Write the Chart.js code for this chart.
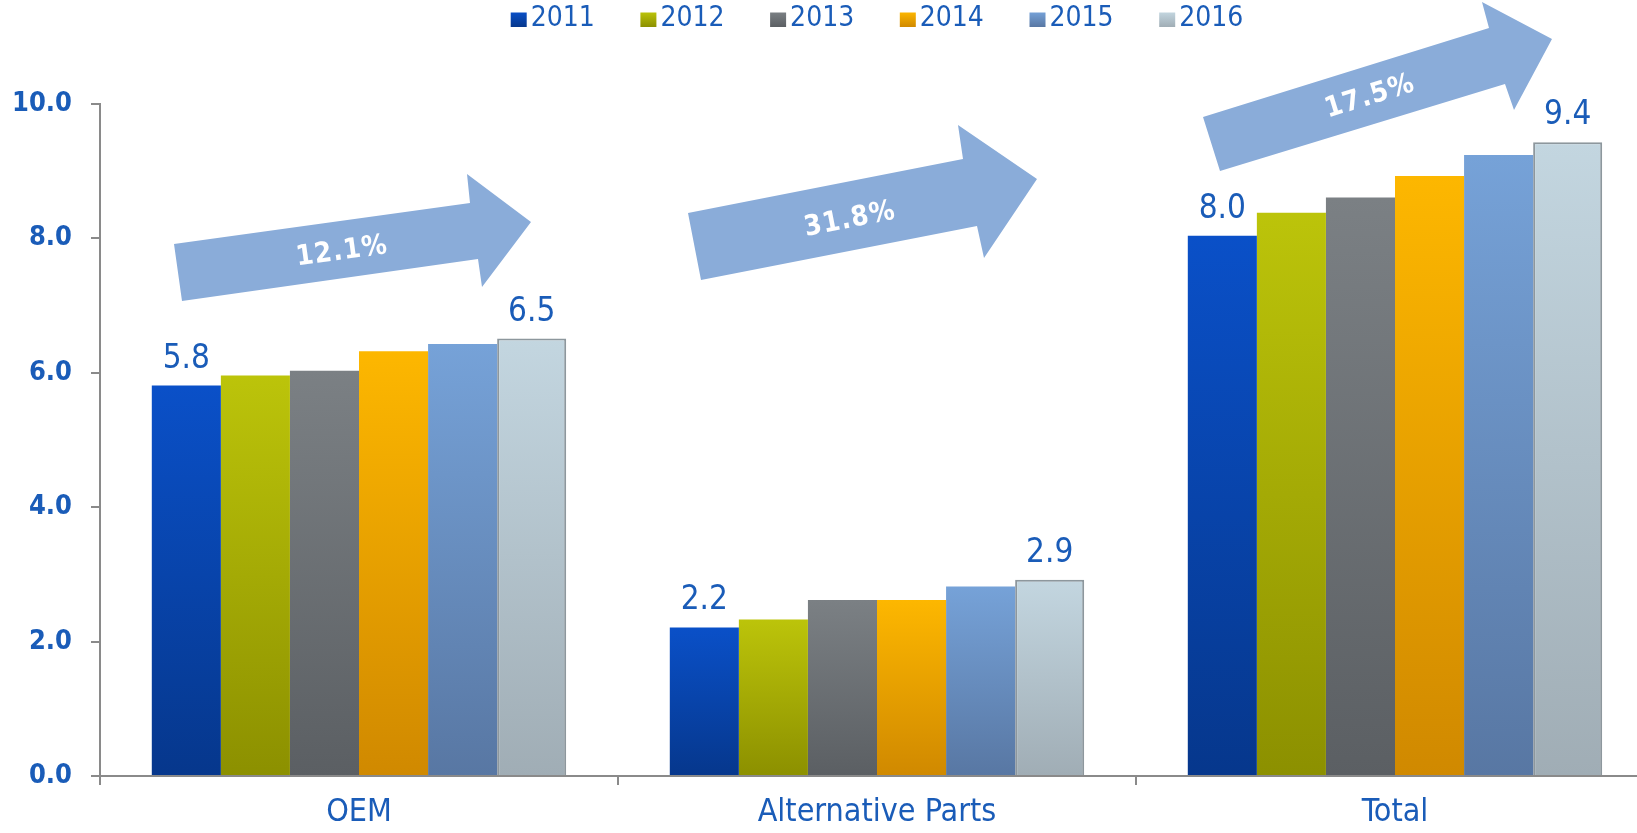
<!DOCTYPE html>
<html>
<head>
<meta charset="utf-8">
<script src="https://cdn.jsdelivr.net/npm/chart.js@4/dist/chart.umd.min.js"></script>
<style>
html,body{margin:0;padding:0;overflow:hidden;background:#ffffff;width:1637px;height:833px;}
canvas{display:block;}
</style>
</head>
<body>
<canvas id="c" width="1660" height="833"></canvas>
<script>
// ---- data ----
const categories = ['OEM', 'Alternative Parts', 'Total'];
const years = ['2011', '2012', '2013', '2014', '2015', '2016'];
const v2011 = [5.81, 2.21, 8.04];
const v2012 = [5.96, 2.33, 8.38];
const v2013 = [6.03, 2.62, 8.61];
const v2014 = [6.32, 2.62, 8.93];
const v2015 = [6.43, 2.82, 9.24];
const v2016 = [6.51, 2.92, 9.43];
const yTickValues = [0, 2, 4, 6, 8, 10];
const growthLabels = ['12.1%', '31.8%', '17.5%'];
const labelledYears = ['2011', '2016'];

// ---- styles ----
const BLUE = '#1a5cb8';
const AXIS = '#8a8a8a';
const FONT = "'DejaVu Sans Condensed', 'DejaVu Sans', sans-serif";
const LEGEND_FONT = "'Liberation Sans Narrow', 'DejaVu Sans Condensed', sans-serif";
const topColors = ['#0a50c8', '#bcc40a', '#7b8084', '#fdb700', '#76a2d8', '#c3d6e0'];
const bottomColors = ['#06378c', '#8c9000', '#5b5f63', '#d08900', '#5877a3', '#a0adb5'];
const seriesValues = [v2011, v2012, v2013, v2014, v2015, v2016];

function gradientFill(i) {
  return function (ctx) {
    const chart = ctx.chart;
    const ys = chart.scales && chart.scales.y;
    if (ctx.type !== 'data' || !ys || !chart.chartArea) return topColors[i];
    const y0 = ys.getPixelForValue(ctx.raw);
    const y1 = ys.getPixelForValue(0);
    if (!isFinite(y0) || !isFinite(y1) || y0 === y1) return topColors[i];
    const g = chart.ctx.createLinearGradient(0, y0, 0, y1);
    g.addColorStop(0, topColors[i]);
    g.addColorStop(1, bottomColors[i]);
    return g;
  };
}

const datasets = years.map((y, i) => ({
  label: y,
  data: seriesValues[i],
  backgroundColor: gradientFill(i),
  borderColor: i === 5 ? '#8d979d' : 'rgba(0,0,0,0)',
  borderWidth: i === 5 ? 2 : 0,
  barPercentage: 1.0,
  categoryPercentage: 0.8
}));

// Custom legend (top)
const legendPlugin = {
  id: 'topLegend',
  afterDraw(chart) {
    const ctx = chart.ctx;
    const area = chart.chartArea;
    const cx = (area.left + area.right) / 2;
    const step = 129.7;
    ctx.save();
    ctx.font = '28px ' + LEGEND_FONT;
    ctx.textBaseline = 'middle';
    ctx.textAlign = 'left';
    chart.data.datasets.forEach((ds, i) => {
      const tw = ctx.measureText(ds.label).width;
      const w = 16 + 4 + tw;
      const x0 = cx + (i - 2.5) * step - w / 2;
      const g = ctx.createLinearGradient(0, 12, 0, 27);
      g.addColorStop(0, topColors[i]);
      g.addColorStop(1, bottomColors[i]);
      ctx.fillStyle = g;
      ctx.fillRect(x0, 12.5, 16, 14.5);
      ctx.fillStyle = BLUE;
      ctx.fillText(ds.label, x0 + 20, 19);
    });
    ctx.restore();
  }
};

// Value labels for first and last year
const valueLabelPlugin = {
  id: 'valueLabels',
  afterDatasetsDraw(chart) {
    const ctx = chart.ctx;
    ctx.save();
    ctx.font = '33px ' + FONT;
    ctx.fillStyle = BLUE;
    ctx.textAlign = 'center';
    ctx.textBaseline = 'alphabetic';
    chart.data.datasets.forEach((ds, i) => {
      if (!labelledYears.includes(ds.label)) return;
      const meta = chart.getDatasetMeta(i);
      meta.data.forEach((bar, j) => {
        ctx.fillText(ds.data[j].toFixed(1), bar.x, bar.y - 18);
      });
    });
    ctx.restore();
  }
};

// Growth arrows (decorations)
const arrowShapes = [
  { pts: [[174,244],[470,203],[467,174],[531,222],[482,287],[478,259],[182,301]], tx: 342, ty: 252, ang: -7.9 },
  { pts: [[688,213],[963,159],[958,125],[1037,179],[984,258],[977,226],[701,280]], tx: 850, ty: 220, ang: -11.1 },
  { pts: [[1203,117],[1489,28],[1482,2],[1552,39],[1514,110],[1505,84],[1220,171]], tx: 1370, ty: 97, ang: -17.2 }
];
const arrowPlugin = {
  id: 'arrows',
  afterDraw(chart) {
    const ctx = chart.ctx;
    ctx.save();
    arrowShapes.forEach((a, k) => {
      ctx.beginPath();
      a.pts.forEach((p, n) => n ? ctx.lineTo(p[0], p[1]) : ctx.moveTo(p[0], p[1]));
      ctx.closePath();
      ctx.fillStyle = '#8aacd9';
      ctx.fill();
      ctx.save();
      ctx.translate(a.tx, a.ty);
      ctx.rotate(a.ang * Math.PI / 180);
      ctx.font = 'bold 28px ' + FONT;
      try { ctx.letterSpacing = '1px'; } catch (e) {}
      ctx.fillStyle = '#ffffff';
      ctx.textAlign = 'center';
      ctx.textBaseline = 'middle';
      ctx.fillText(growthLabels[k], 0, 0);
      ctx.restore();
    });
    ctx.restore();
  }
};

new Chart(document.getElementById('c'), {
  type: 'bar',
  data: { labels: categories, datasets: datasets },
  options: {
    responsive: false,
    devicePixelRatio: 1,
    animation: false,
    layout: { padding: { top: 104, right: 6, left: 0, bottom: 0 } },
    plugins: { legend: { display: false }, tooltip: { enabled: false } },
    scales: {
      x: {
        grid: { offset: true, drawOnChartArea: false, drawTicks: true, tickLength: 9, color: AXIS, lineWidth: 2 },
        border: { color: AXIS, width: 2 },
        ticks: { color: BLUE, font: { family: FONT, size: 32 }, padding: 8 },
        afterFit(s) { s.height = 57; }
      },
      y: {
        min: 0, max: 10,
        afterBuildTicks(s) { s.ticks = yTickValues.map(v => ({ value: v })); },
        grid: { drawOnChartArea: false, drawTicks: true, tickLength: 9, color: AXIS, lineWidth: 2 },
        border: { color: AXIS, width: 2 },
        ticks: { color: BLUE, font: { family: FONT, size: 27, weight: 'bold' }, padding: 19,
                 callback: v => Number(v).toFixed(1) },
        afterFit(s) { s.width = 100; }
      }
    }
  },
  plugins: [valueLabelPlugin, arrowPlugin, legendPlugin]
});
</script>
</body>
</html>
